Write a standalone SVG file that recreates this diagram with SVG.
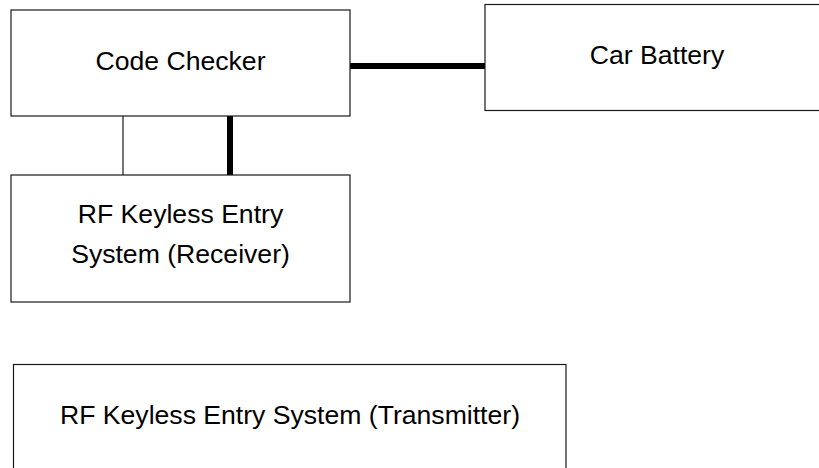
<svg xmlns="http://www.w3.org/2000/svg" width="819" height="468" viewBox="0 0 819 468">
  <style>
    .box { fill: #ffffff; stroke: #1a1a1a; stroke-width: 1.2; }
    .label { font-family: "Liberation Sans", Arial, sans-serif; font-size: 26.6px; fill: #000000; text-anchor: middle; }
    .thin { stroke: #1a1a1a; stroke-width: 1.2; fill: none; }
    .thick { stroke: #000000; stroke-width: 6; fill: none; }
  </style>
  <rect width="819" height="468" fill="#ffffff"/>

  <g id="connectors">
    <line class="thick" x1="350" y1="66" x2="485" y2="66"/>
    <line class="thin" x1="123" y1="116" x2="123" y2="175"/>
    <line class="thick" x1="230" y1="116" x2="230" y2="175"/>
  </g>

  <g id="code-checker">
    <rect class="box" x="11" y="10" width="339" height="106"/>
    <text class="label" x="180.5" y="70">Code Checker</text>
  </g>

  <g id="car-battery">
    <rect class="box" x="485" y="4.5" width="344" height="106"/>
    <text class="label" x="657" y="64">Car Battery</text>
  </g>

  <g id="rf-receiver">
    <rect class="box" x="11" y="175" width="339" height="127"/>
    <text class="label" x="180.5" y="223">RF Keyless Entry</text>
    <text class="label" x="180.5" y="263">System (Receiver)</text>
  </g>

  <g id="rf-transmitter">
    <rect class="box" x="13.5" y="364.5" width="552.5" height="110"/>
    <text class="label" x="290" y="424">RF Keyless Entry System (Transmitter)</text>
  </g>
</svg>
